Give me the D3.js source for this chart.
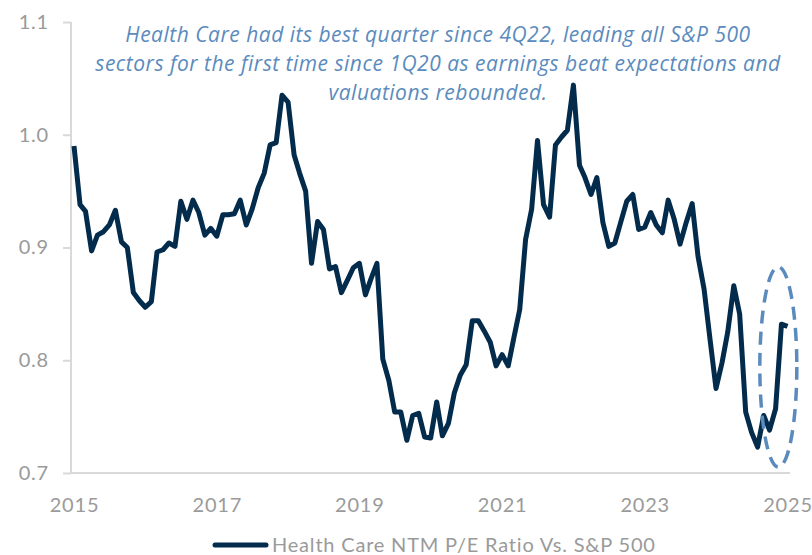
<!DOCTYPE html>
<html>
<head>
<meta charset="utf-8">
<script src="https://cdn.jsdelivr.net/npm/d3@7"></script>
<style>
  body { margin: 0; background: #ffffff; }
  svg { display: block; font-family: Lato, "Open Sans", sans-serif; }
</style>
</head>
<body>
<div id="chart"></div>
<script>
// Monthly values, Jan 2015 .. Jan 2025
const startMonth = "2015-01";
const ratioValues = [
  0.990, 0.938, 0.932, 0.897, 0.911, 0.914, 0.920, 0.933, 0.905, 0.900, 0.860, 0.853,
  0.847, 0.852, 0.896, 0.898, 0.904, 0.901, 0.941, 0.925, 0.942, 0.931, 0.911, 0.917,
  0.910, 0.929, 0.929, 0.930, 0.942, 0.920, 0.934, 0.953, 0.966, 0.991, 0.993, 1.035,
  1.029, 0.982, 0.966, 0.950, 0.886, 0.923, 0.916, 0.881, 0.883, 0.860, 0.871, 0.882,
  0.886, 0.858, 0.872, 0.886, 0.801, 0.782, 0.754, 0.754, 0.729, 0.751, 0.753, 0.732,
  0.731, 0.763, 0.733, 0.744, 0.771, 0.787, 0.796, 0.835, 0.835, 0.826, 0.816, 0.795,
  0.805, 0.795, 0.819, 0.845, 0.907, 0.934, 0.995, 0.938, 0.927, 0.991, 0.998, 1.004,
  1.044, 0.973, 0.962, 0.947, 0.962, 0.922, 0.901, 0.904, 0.923, 0.941, 0.947, 0.916,
  0.918, 0.931, 0.920, 0.913, 0.942, 0.925, 0.903, 0.922, 0.939, 0.892, 0.863, 0.819,
  0.775, 0.798, 0.825, 0.866, 0.841, 0.754, 0.736, 0.723, 0.751, 0.738, 0.757, 0.832,
  0.830
];
const yTicks = [0.7, 0.8, 0.9, 1.0, 1.1];
const xTickYears = [2015, 2017, 2019, 2021, 2023, 2025];
const seriesName = "Health Care NTM P/E Ratio Vs. S&P 500";
const noteLines = [
  "Health Care had its best quarter since 4Q22, leading all S&P 500",
  "sectors for the first time since 1Q20 as earnings beat expectations and",
  "valuations rebounded."
];
// highlight ellipse around the latest readings
const highlightCenter = { date: "2024-11-15", value: 0.794 };

const parseMonth = d3.timeParse("%Y-%m");
const start = parseMonth(startMonth);
const data = ratioValues.map((v, i) => ({ date: d3.timeMonth.offset(start, i), value: v }));

const width = 812, height = 555;
const lineColor = "#032b4c";
const noteColor = "#5b8bbd";
const labelColor = "#9a9a9a";
const axisColor = "#d9d9d9";

const svg = d3.select("#chart")
  .append("svg")
  .attr("width", width)
  .attr("height", height);

const xScale = d3.scaleTime()
  .domain([new Date(2015, 0, 1), new Date(2025, 0, 1)])
  .range([74, 787.5]);

const yScale = d3.scaleLinear()
  .domain([0.7, 1.1])
  .range([473, 22]);

// y axis
const yAxis = svg.append("g")
  .attr("transform", "translate(71,0)")
  .call(d3.axisLeft(yScale).tickValues(yTicks).tickFormat(d3.format(".1f")).tickSize(8).tickPadding(14));
yAxis.select(".domain").attr("stroke", axisColor).attr("stroke-width", 2)
  .attr("d", `M0,${yScale(1.1)}V${yScale(0.7)}`);
yAxis.selectAll(".tick line").attr("stroke", axisColor).attr("stroke-width", 2);
yAxis.selectAll(".tick text")
  .attr("fill", labelColor)
  .style("font-size", "20px")
  .style("letter-spacing", "0.8px")
  .style("font-family", "Lato, sans-serif");

// x axis
const xAxis = svg.append("g")
  .attr("transform", `translate(0,${yScale(0.7)})`)
  .call(d3.axisBottom(xScale)
    .tickValues(xTickYears.map(y => new Date(y, 0, 1)))
    .tickFormat(d3.timeFormat("%Y"))
    .tickSize(0).tickPadding(25));
xAxis.select(".domain").attr("stroke", axisColor).attr("stroke-width", 2)
  .attr("d", `M71,0H790`);
xAxis.selectAll(".tick text")
  .attr("fill", labelColor)
  .style("font-size", "20px")
  .style("letter-spacing", "0.8px")
  .style("font-family", "Lato, sans-serif");

// the line
const line = d3.line()
  .x(d => xScale(d.date))
  .y(d => yScale(d.value));

svg.append("path")
  .datum(data)
  .attr("fill", "none")
  .attr("stroke", lineColor)
  .attr("stroke-width", 5)
  .attr("stroke-linejoin", "round")
  .attr("d", line);

// dashed ellipse
svg.append("ellipse")
  .attr("cx", xScale(d3.isoParse(highlightCenter.date)))
  .attr("cy", yScale(highlightCenter.value))
  .attr("rx", 18.5)
  .attr("ry", 100)
  .attr("fill", "none")
  .attr("stroke", noteColor)
  .attr("stroke-width", 3.5)
  .attr("stroke-dasharray", "13,8");

// annotation
svg.append("text")
  .attr("text-anchor", "middle")
  .attr("fill", noteColor)
  .style("font-family", "'Open Sans', sans-serif")
  .style("font-size", "21px")
  .style("letter-spacing", "0.5px")
  .style("font-style", "italic")
  .selectAll("tspan")
  .data(noteLines)
  .enter()
  .append("tspan")
  .attr("x", 438)
  .attr("y", (d, i) => 42 + i * 29)
  .text(d => d);

// legend
const legend = svg.append("g");
legend.append("line")
  .attr("x1", 215).attr("x2", 266)
  .attr("y1", 545).attr("y2", 545)
  .attr("stroke", lineColor)
  .attr("stroke-width", 5)
  .attr("stroke-linecap", "round");
legend.append("text")
  .attr("x", 272)
  .attr("y", 552)
  .attr("fill", labelColor)
  .style("font-size", "20px")
  .style("letter-spacing", "0.8px")
  .text(seriesName);
</script>
</body>
</html>
